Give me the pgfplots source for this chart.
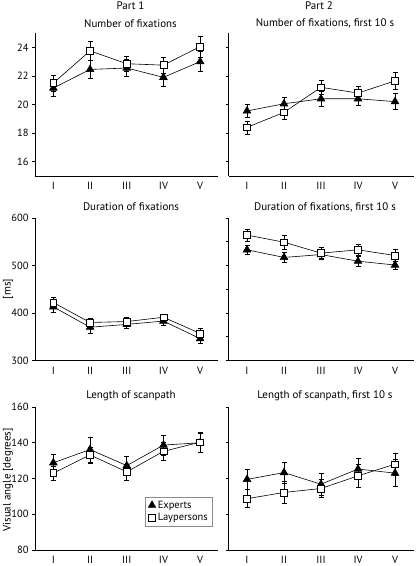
\documentclass[border=0pt]{standalone}
\usepackage{pgfplots}
\pgfplotsset{compat=1.18}
\usepackage{fontspec}
\setmainfont{PT Sans}
\begin{document}
\fontsize{10}{12}\selectfont
\begin{tikzpicture}[x=1bp,y=1bp]
\useasboundingbox (0,0) rectangle (416,566);
\pgfplotsset{
  panel/.style={
    scale only axis, width=183.5bp, height=143bp,
    axis x line*=bottom, axis y line*=left,
    axis line style={black, line width=0.6pt, -},
    xmin=0.5, xmax=5.5,
    xtick={1,2,3,4,5}, xticklabels={I,II,III,IV,V},
    x tick style={draw=none},
    y tick style={black, line width=0.6pt},
    tick align=outside, major tick length=3bp,
    /pgf/number format/assume math mode=true,
    tick label style={font=\fontsize{10.5}{12}\selectfont},
    clip=false, anchor=south west,
  },
  errs/.style={
    error bars/y dir=both, error bars/y explicit,
    error bars/error bar style={line width=0.6pt, black},
    error bars/error mark options={mark size=2.5bp, line width=0.6pt, black, rotate=90}},
  exp/.style={black, line width=0.6pt, mark=triangle*, mark size=4.4,
    mark options={fill=black, solid}, errs},
  lay/.style={black, line width=0.6pt, mark=square*, mark size=3.4,
    mark options={fill=white, solid}, errs},
}
% ---------- Row 1 ----------
\begin{axis}[panel, at={(35bp,390bp)}, ymin=15, ymax=25, ytick={16,18,20,22,24}]
\addplot+[exp] table[x=x, y=y, y error=e] {
x y e
1 21.15 0.6
2 22.45 0.65
3 22.55 0.6
4 21.9 0.65
5 23.0 0.7
};
\addplot+[lay] table[x=x, y=y, y error=e] {
x y e
1 21.5 0.55
2 23.75 0.65
3 22.85 0.5
4 22.75 0.55
5 24.05 0.75
};
\end{axis}
\begin{axis}[panel, at={(228.5bp,390bp)}, width=185bp, ymin=15, ymax=25, ytick={16,18,20,22,24}, yticklabels={}]
\addplot+[exp] table[x=x, y=y, y error=e] {
x y e
1 19.55 0.45
2 20.05 0.45
3 20.4 0.5
4 20.4 0.45
5 20.2 0.55
};
\addplot+[lay] table[x=x, y=y, y error=e] {
x y e
1 18.4 0.45
2 19.45 0.5
3 21.2 0.5
4 20.8 0.45
5 21.65 0.6
};
\end{axis}
% ---------- Row 2 ----------
\begin{axis}[panel, at={(35bp,205.5bp)}, height=142.5bp, ymin=300, ymax=600, ytick={300,400,500,600}]
\addplot+[exp] table[x=x, y=y, y error=e] {
x y e
1 413 12
2 370 12
3 376 9
4 383 9
5 346 9
};
\addplot+[lay] table[x=x, y=y, y error=e] {
x y e
1 422 11
2 380 9
3 382 9
4 391 7
5 357 11
};
\end{axis}
\begin{axis}[panel, at={(228.5bp,205.5bp)}, width=185bp, height=142.5bp, ymin=300, ymax=600, ytick={300,350,400,450,500,550,600}, yticklabels={}]
\addplot+[exp] table[x=x, y=y, y error=e] {
x y e
1 533 10
2 517 10
3 523 8
4 509 10
5 501 8
};
\addplot+[lay] table[x=x, y=y, y error=e] {
x y e
1 564 13
2 549 14
3 526 12
4 533 12
5 521 13
};
\end{axis}
% ---------- Row 3 ----------
\begin{axis}[panel, at={(35bp,16bp)}, ymin=80, ymax=160, ytick={80,100,120,140,160},
  legend style={at={(axis description cs:0.97,0.163)}, anchor=south east, draw=black!45, line width=0.5pt,
    font=\fontsize{10.5}{12}\selectfont, row sep=0pt, inner xsep=3pt, inner ysep=2pt},
  legend cell align=left]
\addplot+[forget plot, exp] table[x=x, y=y, y error=e] {
x y e
1 128.8 5
2 136.2 7
3 127.2 5
4 138.7 5.5
5 140 5.5
};
\addplot+[forget plot, lay] table[x=x, y=y, y error=e] {
x y e
1 123 4
2 133.2 4.5
3 123.7 4.5
4 135.2 5
5 140.3 5.5
};
\addlegendimage{only marks, black, mark=triangle*, mark size=4.4, mark options={fill=black}}
\addlegendentry{Experts}
\addlegendimage{only marks, black, mark=square*, mark size=3.4, mark options={fill=white}}
\addlegendentry{Laypersons}
\end{axis}
\begin{axis}[panel, at={(228.5bp,16bp)}, width=185bp, ymin=80, ymax=160, ytick={80,100,120,140,160}, yticklabels={}]
\addplot+[exp] table[x=x, y=y, y error=e] {
x y e
1 119.5 5.5
2 123.3 6
3 116.8 6
4 125.3 6
5 123 7.5
};
\addplot+[lay] table[x=x, y=y, y error=e] {
x y e
1 108.7 5
2 112.2 6
3 114.4 5
4 121.5 6.5
5 128 6
};
\end{axis}
% ---------- Titles and labels ----------
\tikzset{ttl/.style={font=\fontsize{11}{13}\selectfont, inner sep=0pt}}
\node[ttl] at (130.5,560.3) {Part 1};
\node[ttl] at (319,560.3) {Part 2};
\node[ttl] at (130.5,542.7) {Number of fixations};
\node[ttl] at (325,542.7) {Number of fixations, first 10 s};
\node[ttl] at (131,359) {Duration of fixations};
\node[ttl] at (325,359) {Duration of fixations, first 10 s};
\node[ttl] at (131,170.3) {Length of scanpath};
\node[ttl] at (325,170.3) {Length of scanpath, first 10 s};
\node[ttl, rotate=90] at (8,277) {[ms]};
\node[ttl, rotate=90] at (8,86) {Visual angle [degrees]};
\end{tikzpicture}
\end{document}
